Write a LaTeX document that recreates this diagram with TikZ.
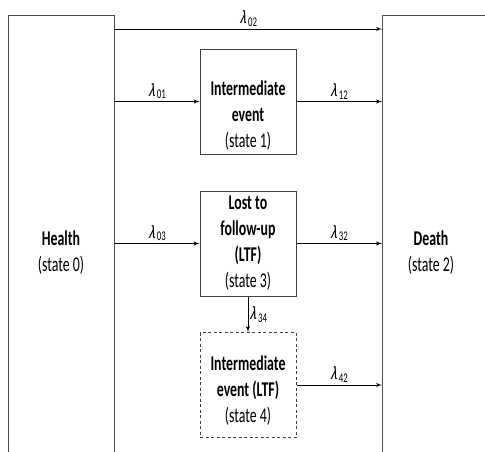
\documentclass[tikz,border=0pt]{standalone}
\usepackage{fontspec}
\setmainfont{Carlito}[FakeStretch=0.66]
\newfontfamily\ratefont{Carlito}[FakeStretch=0.75, FakeSlant=0.22]
\usetikzlibrary{arrows,positioning}
\tikzstyle{line} = [draw, -latex', line width=1pt]
\tikzstyle{bigbox} = [draw=black!70, line width=1pt, rectangle, inner sep=0pt, anchor=north west]
\tikzstyle{state} = [draw=black!75, line width=1pt, rectangle, text width=96pt, inner sep=0pt, align=flush center, minimum height=105pt, font=\fontsize{21}{26}\selectfont]
\tikzstyle{rate} = [font=\fontsize{19}{20}\selectfont, inner sep=2pt]
\newcommand{\hazard}[1]{{\ratefont λ}\kern2pt\textsubscript{#1}}

\begin{document}
\begin{tikzpicture}[x=1pt, y=-1pt]
    \useasboundingbox (0,0) rectangle (485,451);
    \clip (0,0) rectangle (485,451);
    % outer states
    \node [bigbox, minimum width=106pt, minimum height=470pt] (healthbox) at (8,15) {};
    \node [bigbox, minimum width=200pt, minimum height=470pt] (deathbox) at (382,15) {};
    \node [font=\fontsize{21}{26}\selectfont, align=center] (health) at (61,253) {\textbf{Health}\\(state 0)};
    \node [font=\fontsize{21}{26}\selectfont, align=center] (death) at (431,253) {\textbf{Death}\\(state 2)};
    % intermediate states
    \node [state] (event) at (248,101.5) {{}\\[16pt]\textbf{Intermediate}\\\textbf{event}\\(state 1)};
    \node [state] (ltf) at (248,243.5) {\textbf{Lost to}\\\textbf{follow-up}\\\textbf{(LTF)}\\(state 3)};
    \node [state, dash pattern=on 3pt off 2.5pt] (eventltf) at (248,385) {{}\\\textbf{Intermediate}\\\textbf{event (LTF)}\\(state 4)};
    \coordinate (direct) at (248,29);

    \path [line] (healthbox.east |- direct) -- node [rate, above] {\hazard{02}} (deathbox.west |- direct);
    \path [line] (healthbox.east |- event.west) -- node [rate, above] {\hazard{01}} (event.west);
    \path [line] (event.east) -- node [rate, above] {\hazard{12}} (deathbox.west |- event.east);
    \path [line] (healthbox.east |- ltf.west) -- node [rate, above] {\hazard{03}} (ltf.west);
    \path [line] (ltf.east) -- node [rate, above] {\hazard{32}} (deathbox.west |- ltf.east);
    \path [line] (ltf.south) -- node [rate, right, inner sep=1pt] {\hazard{34}} (eventltf.north);
    \path [line] (eventltf.east) -- node [rate, above] {\hazard{42}} (deathbox.west |- eventltf.east);
\end{tikzpicture}
\end{document}
